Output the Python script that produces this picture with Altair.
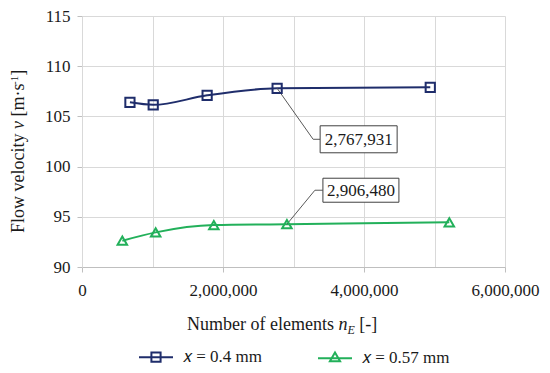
import altair as alt
import pandas as pd

# ---- data ----
blue_x = [680000, 1010000, 1775000, 2767931, 4940000]
blue_y = [106.4, 106.15, 107.1, 107.8, 107.9]
green_x = [572000, 1045000, 1870000, 2906480, 5210000]
green_y = [92.62, 93.45, 94.18, 94.26, 94.45]
series_names = ["𝑥 = 0.4 mm", "𝑥  = 0.57 mm"]
colors = ["#1f2d6b", "#22b05a"]
ann_labels = ["2,767,931", "2,906,480"]
x_ticks = [0, 1000000, 2000000, 3000000, 4000000, 5000000, 6000000]
y_ticks = [90, 95, 100, 105, 110, 115]

FONT = "Liberation Serif"
TC = "#1a1a1a"
GRID = "#d9d9d9"

df = pd.DataFrame({
    "n": blue_x + green_x,
    "v": blue_y + green_y,
    "series": [series_names[0]] * len(blue_x) + [series_names[1]] * len(green_x),
})
ann_blue = pd.DataFrame({"n": [blue_x[3]], "v": [blue_y[3]], "label": [ann_labels[0]]})
ann_green = pd.DataFrame({"n": [green_x[3]], "v": [green_y[3]], "label": [ann_labels[1]]})

xenc = alt.X(
    "n:Q",
    scale=alt.Scale(domain=[0, 6000000], nice=False, zero=False),
    axis=alt.Axis(
        values=x_ticks, format=",d",
        labelExpr="datum.value % 2000000 === 0 ? datum.label : ''",
        labelFlush=False, labelOverlap=False,
        grid=True, gridColor=GRID, gridWidth=1,
        domainColor="#bfbfbf", domainWidth=1,
        tickColor={"condition": {"test": "datum.value % 2000000 === 0", "value": "#bfbfbf"}, "value": "transparent"},
        tickSize=5, labelPadding=10,
        labelFont=FONT, labelFontSize=17, labelColor=TC, title=None,
    ),
)
yenc = alt.Y(
    "v:Q",
    scale=alt.Scale(domain=[90, 115], nice=False, zero=False),
    axis=alt.Axis(
        values=y_ticks, grid=True, gridColor=GRID, gridWidth=1,
        domainColor=GRID, tickColor="#bfbfbf", tickSize=5, labelPadding=7,
        labelFont=FONT, labelFontSize=17, labelColor=TC, title=None,
    ),
)

base = alt.Chart(df)

def series_line(i):
    return base.transform_filter(alt.datum.series == series_names[i]).mark_line(
        color=colors[i], strokeWidth=2, interpolate="monotone"
    ).encode(x=xenc, y=yenc)

def series_points(i, shape, size):
    return base.transform_filter(alt.datum.series == series_names[i]).mark_point(
        shape=shape, size=size, filled=False, strokeWidth=2, color=colors[i], opacity=1
    ).encode(x=xenc, y=yenc)

def annotation(d, cx, cy, bx1, bx2, by1, by2):
    c = alt.Chart(d)
    lead1 = c.mark_rule(color="#595959", strokeWidth=1, x2Offset=cx, y2Offset=cy).encode(
        x=xenc, y=yenc, x2="n:Q", y2="v:Q")
    lead2 = c.mark_rule(color="#595959", strokeWidth=1, xOffset=cx, yOffset=cy,
                        x2Offset=bx1, y2Offset=cy).encode(x=xenc, y=yenc, x2="n:Q", y2="v:Q")
    box = c.mark_rect(fill="white", stroke="#404040", strokeWidth=1,
                      xOffset=bx1, x2Offset=bx2, yOffset=by1, y2Offset=by2).encode(
        x=xenc, y=yenc, x2="n:Q", y2="v:Q")
    txt = c.mark_text(font=FONT, fontSize=17, color=TC, align="center", baseline="middle",
                      dx=(bx1 + bx2) / 2, dy=(by1 + by2) / 2 + 1).encode(x=xenc, y=yenc, text="label:N")
    return [lead1, lead2, box, txt]

def piece(s, x, y, size=18, style="normal", angle=0):
    return alt.Chart(alt.Data(values=[{"k": 1}])).mark_text(
        text=s, align="left", baseline="alphabetic", font=FONT, fontSize=size,
        fontStyle=style, color=TC, angle=angle,
    ).encode(x=alt.value(x), y=alt.value(y))

# x-axis title pieces
xt_y = 313.5
x_title = [
    piece("Number of elements", 105, xt_y),
    piece("n", 256.5, xt_y, style="italic"),
    piece("E", 265.5, xt_y + 4, size=12, style="italic"),
    piece("[-]", 277.3, xt_y),
]
# y-axis title pieces (rotated)
yx = -58
y_title = [
    piece("Flow velocity", yx, 217, angle=270),
    piece("v", yx, 113, style="italic", angle=270),
    piece("[m·s", yx, 100.5, angle=270),
    piece("-1", yx - 6, 69, size=11, angle=270),
    piece("]", yx, 59.8, angle=270),
]

sq_path = "M-1,0H1M-0.27,-0.27H0.27V0.27H-0.27Z"
tri_path = "M-1,0.05H1M0,-0.3L0.3,0.22H-0.3Z"
LEG = alt.Legend(
    orient="none", legendX=56, legendY=323, direction="horizontal", columns=2,
    title=None, symbolSize=1156, symbolStrokeWidth=2, labelFont=FONT,
    labelFontSize=17, labelColor=TC, labelOffset=9, columnPadding=51, padding=0,
)
legend_layer = base.transform_filter("false").mark_point(filled=False, strokeWidth=2, opacity=1).encode(
    x=xenc, y=yenc,
    color=alt.Color("series:N", scale=alt.Scale(domain=series_names, range=colors), legend=LEG),
    shape=alt.Shape("series:N", scale=alt.Scale(domain=series_names, range=[sq_path, tri_path]), legend=LEG),
)

layers = (
    [series_line(0), series_line(1)]
    + annotation(ann_blue, 36, 51, 43, 120, 37.5, 64.5)
    + annotation(ann_green, 28, -34, 36, 112, -46, -22)
    + [series_points(0, "square", 85), series_points(1, "triangle-up", 90)]
    + x_title + y_title + [legend_layer]
)

chart = alt.layer(*layers).properties(
    width=423, height=251, autosize="none",
    padding={"left": 74, "top": 8, "right": 37, "bottom": 98},
).configure_view(stroke=None)

chart.save("out.html", embed_options={"renderer": "svg", "actions": False})
